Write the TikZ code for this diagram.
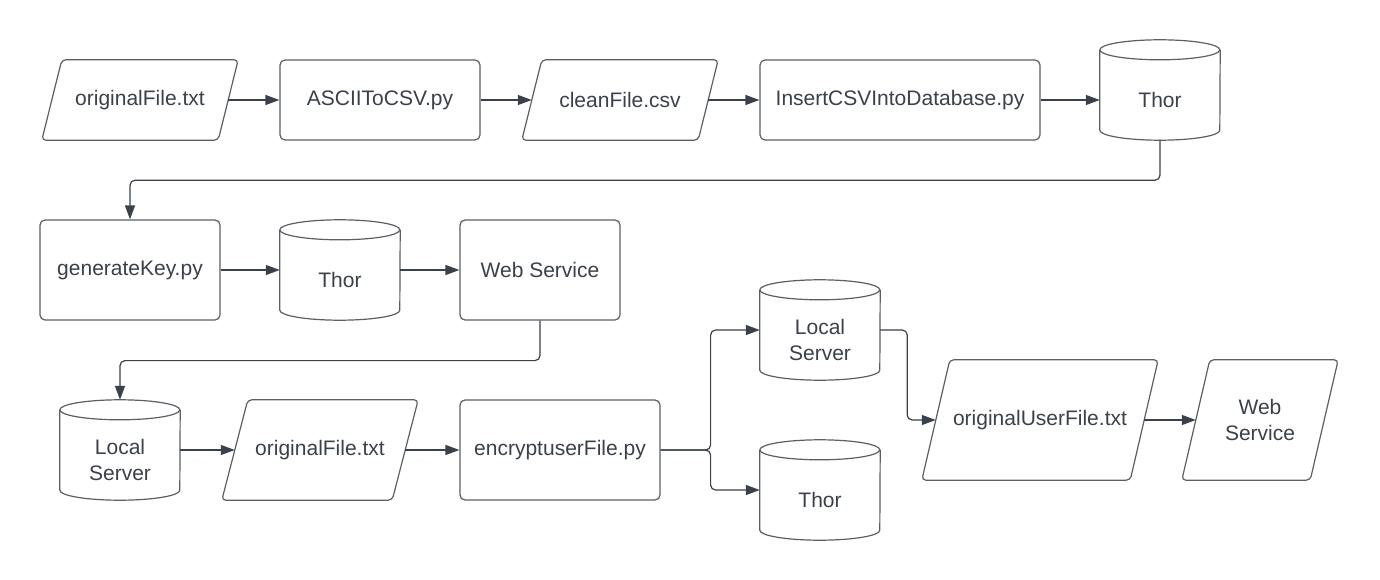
\documentclass[tikz,border=0pt]{standalone}
\usepackage{fontspec}
\setmainfont{Liberation Sans}
\usetikzlibrary{arrows.meta}
\definecolor{linec}{HTML}{3A414A}
\definecolor{bordc}{HTML}{5A5F66}
\definecolor{textc}{HTML}{3A414A}
\tikzset{
  base/.style={inner sep=0pt, text=textc, font=\fontsize{21}{26}\selectfont, align=center},
  procbox/.style={base, rectangle, draw=bordc, line width=1.2pt, rounded corners=5pt},
  iobox/.style={base, rectangle},
  paraline/.style={draw=bordc, line width=1.2pt, rounded corners=4pt},
  cylbody/.style={base, rectangle, minimum width=120pt, minimum height=80pt},
  cylline/.style={draw=bordc, line width=1.2pt},
  conn/.style={draw=linec, line width=1.2pt, rounded corners=5pt, -{Triangle[length=14pt,width=10pt]}},
}
\newcommand\drawcyl[1]{%
  \draw[cylline] ([yshift=10pt]#1.north west) arc[start angle=180,end angle=-180,x radius=60pt,y radius=10pt];
  \draw[cylline] ([yshift=10pt]#1.north west) -- ([yshift=10pt]#1.south west)
     arc[start angle=180,end angle=360,x radius=60pt,y radius=10pt] -- ([yshift=10pt]#1.north east);
}
\newcommand\drawpara[2]{%
  \draw[paraline] (#1.south west) -- ([xshift=#2]#1.north west) -- (#1.north east)
     -- ([xshift=-#2]#1.south east) -- cycle;
}
\begin{document}
\begin{tikzpicture}[x=1pt,y=-1pt]
\useasboundingbox[fill=white] (0,0) rectangle (1380,580);
% row 1
\node[iobox, minimum width=196pt, minimum height=80pt] (of1) at (140,100) {originalFile.txt};
\drawpara{of1}{20pt}
\node[procbox, minimum width=200pt, minimum height=80pt] (ascii) at (380,100) {ASCIIToCSV.py};
\node[iobox, minimum width=196pt, minimum height=80pt] (clean) at (620,100) {cleanFile.csv};
\drawpara{clean}{20pt}
\node[procbox, minimum width=280pt, minimum height=80pt] (insert) at (900,100) {InsertCSVIntoDatabase.py};
\node[cylbody] (thor1) at (1160,100) {Thor};
\drawcyl{thor1}
% row 2
\node[procbox, minimum width=180pt, minimum height=100pt] (genkey) at (130,270) {generateKey.py};
\node[cylbody] (thor2) at (340,280) {Thor};
\drawcyl{thor2}
\node[procbox, minimum width=160pt, minimum height=100pt] (websvc) at (540,270) {Web Service};
% row 3
\node[cylbody] (ls1) at (120,460) {Local\\Server};
\drawcyl{ls1}
\node[iobox, minimum width=196pt, minimum height=100pt] (of2) at (320,450) {originalFile.txt};
\drawpara{of2}{26pt}
\node[procbox, minimum width=200pt, minimum height=100pt] (enc) at (560,450) {encryptuserFile.py};
\node[cylbody] (ls2) at (820,340) {Local\\Server};
\drawcyl{ls2}
\node[cylbody] (thor3) at (820,500) {Thor};
\drawcyl{thor3}
\node[iobox, minimum width=236pt, minimum height=120pt] (ouf) at (1040,420) {originalUserFile.txt};
\drawpara{ouf}{28pt}
\node[iobox, minimum width=156pt, minimum height=120pt] (ws2) at (1260,420) {Web\\Service};
\drawpara{ws2}{28pt}
% connectors
\draw[conn] ([xshift=-10pt]of1.east) -- (ascii.west);
\draw[conn] (ascii.east) -- ([xshift=10pt]clean.west);
\draw[conn] ([xshift=-10pt]clean.east) -- (insert.west);
\draw[conn] (insert.east) -- (thor1.west);
\draw[conn] (thor1.south) -- ++(0,40) -| (genkey.north);
\draw[conn] (genkey.east) -- ([yshift=10pt]thor2.west);
\draw[conn] ([yshift=10pt]thor2.east) -- (websvc.west);
\draw[conn] (websvc.south) -- ++(0,40) -| ([yshift=20pt]ls1.north);
\draw[conn] ([yshift=10pt]ls1.east) -- ([xshift=13pt]of2.west);
\draw[conn] ([xshift=-13pt]of2.east) -- (enc.west);
\draw[conn] (enc.east) -- ++(50,0) |- ([yshift=10pt]ls2.west);
\draw[conn] (enc.east) -- ++(50,0) |- ([yshift=10pt]thor3.west);
\draw[conn] ([yshift=10pt]ls2.east) -- ++(27,0) |- ([xshift=14pt]ouf.west);
\draw[conn] ([xshift=-14pt]ouf.east) -- ([xshift=14pt]ws2.west);
\end{tikzpicture}
\end{document}
